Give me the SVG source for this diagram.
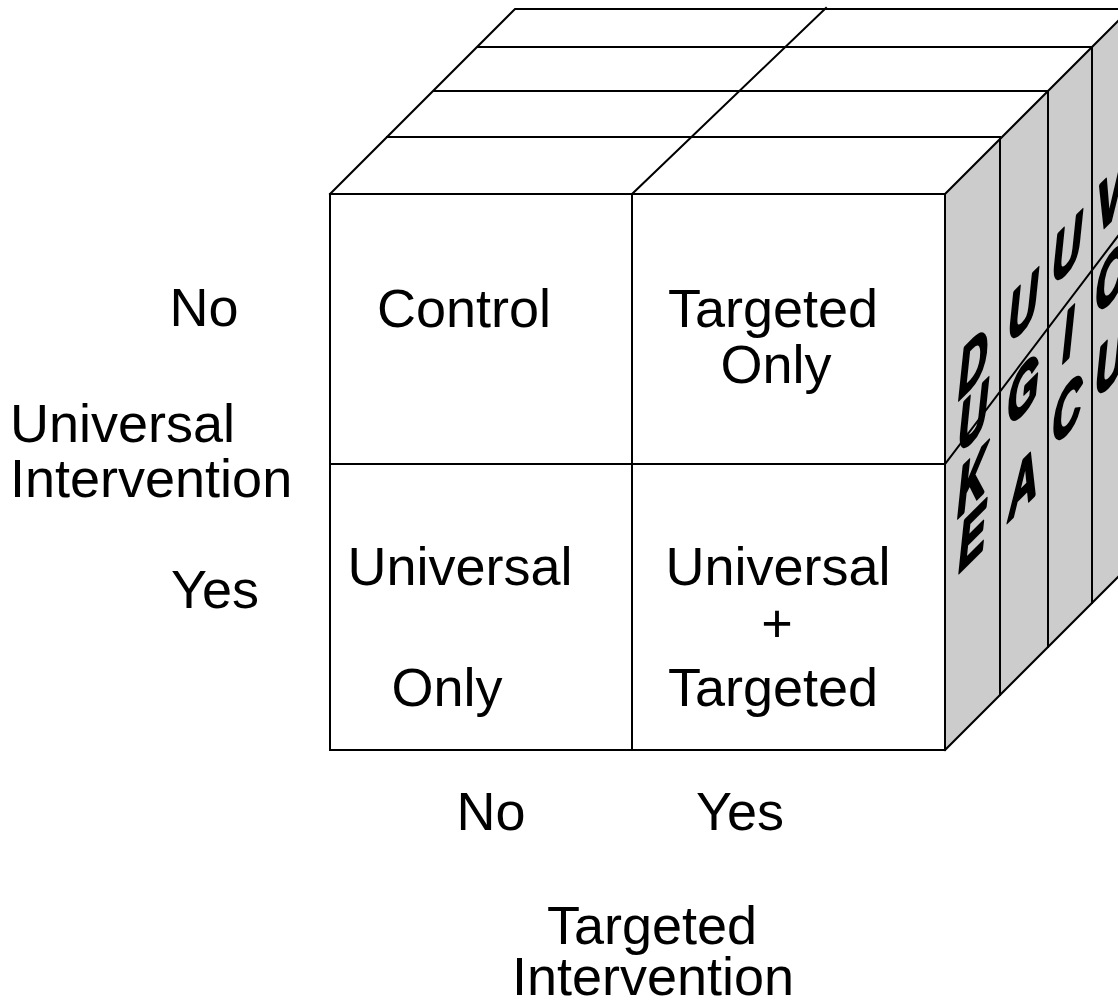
<svg xmlns="http://www.w3.org/2000/svg" width="1118" height="1002" viewBox="0 0 1118 1002">
<style>
.ln{stroke:#000;stroke-width:2;fill:none;stroke-linecap:square}
.t{font-family:"Liberation Sans",Arial,sans-serif;font-size:54px;fill:#000}
.m{text-anchor:middle}
.u{font-family:"Liberation Sans",Arial,sans-serif;font-size:68px;font-weight:bold;font-style:italic;fill:#000;stroke:#000;stroke-width:3;stroke-linejoin:round;text-anchor:middle}
</style>
<rect x="0" y="0" width="1118" height="1002" fill="#fff"/>
<g id="cube">
  <polygon id="right-face" points="945,194 1118,21 1118,577 945,750" fill="#cccccc"/>
  <polygon id="top-face" points="330,194 515,9 1118,9 1118,21 945,194" fill="#fff"/>
  <polygon id="front-face" points="330,194 945,194 945,750 330,750" fill="#fff"/>
</g>
<g id="universities">
  <g id="duke">
    <text class="u" transform="translate(973,386) matrix(0.6,-0.6,0,1,0,0)">D</text>
    <text class="u" transform="translate(973,440) matrix(0.6,-0.6,0,1,0,0)">U</text>
    <text class="u" transform="translate(972,504) matrix(0.6,-0.6,0,1,0,0)">K</text>
    <text class="u" transform="translate(972,560) matrix(0.6,-0.6,0,1,0,0)">E</text>
  </g>
  <g id="uga">
    <text class="u" transform="translate(1023,330) matrix(0.6,-0.6,0,1,0,0)">U</text>
    <text class="u" transform="translate(1023,413) matrix(0.6,-0.6,0,1,0,0)">G</text>
    <text class="u" transform="translate(1023,507) matrix(0.6,-0.6,0,1,0,0)">A</text>
  </g>
  <g id="uic">
    <text class="u" transform="translate(1067,272) matrix(0.6,-0.6,0,1,0,0)">U</text>
    <text class="u" transform="translate(1068,358) matrix(0.6,-0.6,0,1,0,0)">I</text>
    <text class="u" transform="translate(1067,433) matrix(0.6,-0.6,0,1,0,0)">C</text>
  </g>
  <g id="vcu">
    <text class="u" transform="translate(1110,222) matrix(0.6,-0.6,0,1,0,0)">V</text>
    <text class="u" transform="translate(1110,302) matrix(0.6,-0.6,0,1,0,0)">C</text>
    <text class="u" transform="translate(1110,385) matrix(0.6,-0.6,0,1,0,0)">U</text>
  </g>
</g>
<g id="connectors">
  <path class="ln" d="M330,194 H945 V750 H330 Z"/>
  <path class="ln" d="M632,194 V750 M330,464 H945"/>
  <path class="ln" d="M330,194 L515,9 H1118"/>
  <path class="ln" d="M478,47 H1092 M434,91 H1048 M387,137 H1000"/>
  <path class="ln" d="M632,194 L826,8"/>
  <path class="ln" d="M945,194 L1118,21 M945,750 L1118,577"/>
  <path class="ln" d="M1000,139 V695 M1048,91 V647 M1092,47 V603"/>
  <path class="ln" d="M945,464 L1118,236"/>
</g>
<g id="cell-control"><text class="t m" x="464" y="327">Control</text></g>
<g id="cell-targeted-only">
  <text class="t m" x="773" y="327">Targeted</text>
  <text class="t m" x="776" y="383">Only</text>
</g>
<g id="cell-universal-only">
  <text class="t m" x="460" y="585">Universal</text>
  <text class="t m" x="447" y="706">Only</text>
</g>
<g id="cell-universal-targeted">
  <text class="t m" x="778" y="585">Universal</text>
  <text class="t m" x="777" y="642">+</text>
  <text class="t m" x="773" y="706">Targeted</text>
</g>
<g id="axis-universal">
  <text class="t m" x="204" y="326">No</text>
  <text class="t" x="10" y="442">Universal</text>
  <text class="t" x="10" y="497">Intervention</text>
  <text class="t m" x="215" y="608">Yes</text>
</g>
<g id="axis-targeted">
  <text class="t m" x="491" y="830">No</text>
  <text class="t m" x="740" y="830">Yes</text>
  <text class="t m" x="652" y="944">Targeted</text>
  <text class="t m" x="653" y="995">Intervention</text>
</g>
</svg>
